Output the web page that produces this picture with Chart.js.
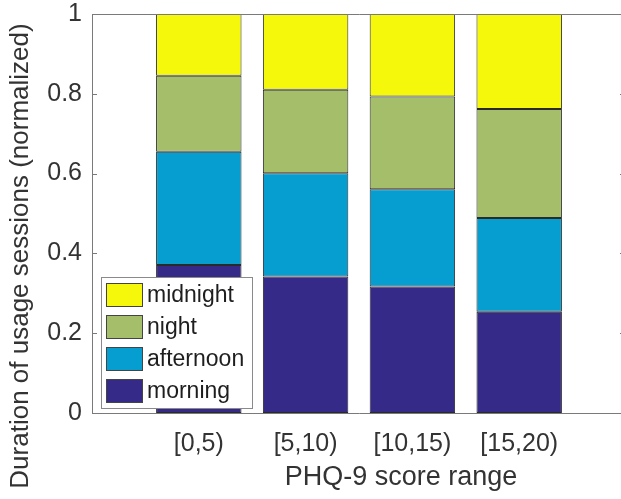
<!DOCTYPE html>
<html>
<head>
<meta charset="utf-8">
<script src="https://cdn.jsdelivr.net/npm/chart.js@4.4.1/dist/chart.umd.min.js"></script>
<style>
  html, body { margin: 0; padding: 0; background: #fff; overflow: hidden; }
  #wrap { position: relative; width: 626px; height: 499px; }
</style>
</head>
<body>
<div id="wrap"><canvas id="c"></canvas></div>
<script>
// ---- data ----
const categories = ['[0,5)', '[5,10)', '[10,15)', '[15,20)'];
const morning   = [0.371, 0.342, 0.317, 0.254];
const afternoon = [0.284, 0.259, 0.244, 0.235];
const night     = [0.190, 0.209, 0.232, 0.273];
const midnight  = [0.155, 0.190, 0.207, 0.238];
const yTicks = [0, 0.2, 0.4, 0.6, 0.8, 1];
const yTickLabels = ['0', '0.2', '0.4', '0.6', '0.8', '1'];
const seriesNames = ['morning', 'afternoon', 'night', 'midnight'];
const seriesColors = ['#352A87', '#069DD0', '#A5BE6A', '#F6F80C'];
const xTitle = 'PHQ-9 score range';
const yTitle = 'Duration of usage sessions (normalized)';

const FONT = '"Liberation Sans", Arial, Helvetica, sans-serif';
const pad = arr => [null, ...arr, null];
const labels = ['', ...categories, ''];
const seriesData = [morning, afternoon, night, midnight];

const datasets = seriesNames.map((name, i) => ({
  label: name,
  data: pad(seriesData[i]),
  backgroundColor: seriesColors[i],
  borderColor: '#2a2a2a',
  borderWidth: 1,
  borderSkipped: false,
  barPercentage: 0.8,
  categoryPercentage: 1.0
}));

const framePlugin = {
  id: 'frame',
  afterDatasetsDraw(chart) {
    const ctx = chart.ctx;
    const a = chart.chartArea;
    const ys = chart.scales.y;
    ctx.save();
    ctx.strokeStyle = '#7a7a7a';
    ctx.lineWidth = 1;
    ctx.beginPath();
    ctx.moveTo(a.right, Math.round(a.top) + 0.5);
    ctx.lineTo(Math.round(a.left) + 0.5, Math.round(a.top) + 0.5);
    ctx.lineTo(Math.round(a.left) + 0.5, Math.round(a.bottom) + 0.5);
    ctx.lineTo(a.right, Math.round(a.bottom) + 0.5);
    yTicks.forEach(v => {
      const y = Math.round(ys.getPixelForValue(v)) + 0.5;
      ctx.moveTo(a.left, y); ctx.lineTo(a.left + 5, y);
      ctx.moveTo(a.right - 6, y); ctx.lineTo(a.right, y);
    });
    ctx.stroke();
    ctx.restore();
  },
  afterDraw(chart) {
    const ctx = chart.ctx;
    const a = chart.chartArea;
    ctx.save();
    // legend box (inside plot, lower-left)
    const bx = a.left + 9, bw = 151, bh = 131;
    const by = a.bottom - 5 - bh;
    ctx.fillStyle = '#fff';
    ctx.fillRect(bx, by, bw, bh);
    ctx.strokeStyle = '#8a8a8a';
    ctx.lineWidth = 1;
    ctx.strokeRect(bx + 0.5, by + 0.5, bw, bh);
    const ds = chart.data.datasets.slice().reverse();
    ctx.font = '23px ' + FONT;
    ctx.textBaseline = 'middle';
    ctx.textAlign = 'left';
    ds.forEach((d, i) => {
      const sy = by + 6 + i * 32;
      ctx.fillStyle = d.backgroundColor;
      ctx.fillRect(bx + 5, sy, 37, 24);
      ctx.strokeStyle = '#444';
      ctx.strokeRect(bx + 5.5, sy + 0.5, 36, 23);
      ctx.fillStyle = '#1e1e1e';
      ctx.fillText(d.label, bx + 46, sy + 13);
    });
    // axis titles
    ctx.fillStyle = '#333';
    ctx.font = '27px ' + FONT;
    ctx.textAlign = 'center';
    ctx.fillText(xTitle, 401, 478);
    ctx.font = '26px ' + FONT;
    ctx.translate(21, 256);
    ctx.rotate(-Math.PI / 2);
    ctx.fillText(yTitle, 0, 0);
    ctx.restore();
  }
};

new Chart(document.getElementById('c'), {
  type: 'bar',
  data: { labels, datasets },
  plugins: [framePlugin],
  options: {
    responsive: true,
    maintainAspectRatio: false,
    animation: false,
    layout: { padding: { top: 14, left: 0, right: 0, bottom: 0 } },
    plugins: { legend: { display: false }, tooltip: { enabled: false } },
    scales: {
      x: {
        stacked: true,
        offset: false,
        grid: { display: false, drawTicks: false },
        border: { display: false },
        ticks: { autoSkip: false, maxRotation: 0, padding: 16, color: '#333',
                 font: { family: FONT, size: 25 } },
        afterFit(s) { s.height = 86; s.paddingLeft = 0; s.paddingRight = 0; }
      },
      y: {
        stacked: true,
        min: 0, max: 1,
        afterBuildTicks(s) { s.ticks = yTicks.map(v => ({ value: v })); },
        grid: { display: false, drawTicks: false },
        border: { display: false },
        ticks: { padding: 10, color: '#333', font: { family: FONT, size: 25, lineHeight: 1 },
                 callback: (v, i) => yTickLabels[i] },
        afterFit(s) { s.width = 92; s.paddingTop = 0; s.paddingBottom = 0; }
      }
    }
  }
});
</script>
</body>
</html>
